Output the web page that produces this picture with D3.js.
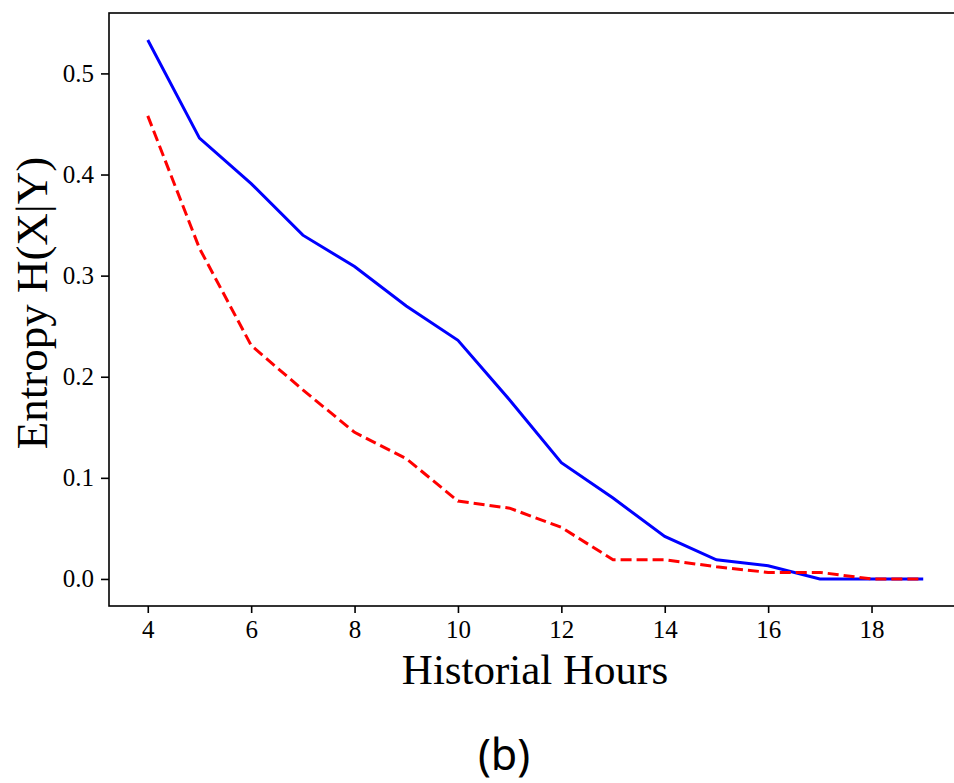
<!DOCTYPE html>
<html>
<head>
<meta charset="utf-8">
<script src="https://cdn.jsdelivr.net/npm/d3@7"></script>
<style>
  body { margin: 0; background: #fff; }
  svg { display: block; }
</style>
</head>
<body>
<div id="chart"></div>
<script>
// historical hours on the x axis
const hours = [4, 5, 6, 7, 8, 9, 10, 11, 12, 13, 14, 15, 16, 17, 18, 19];
// blue solid series
const blueVals = [0.533, 0.436, 0.391, 0.340, 0.309, 0.270, 0.236, 0.177, 0.115, 0.080, 0.042, 0.019, 0.013, 0.0, 0.0, 0.0];
// red dashed series
const redVals = [0.458, 0.327, 0.231, 0.187, 0.145, 0.119, 0.077, 0.070, 0.051, 0.019, 0.019, 0.012, 0.0065, 0.0065, 0.0, 0.0];
const xTicks = [4, 6, 8, 10, 12, 14, 16, 18];
const yTicks = [0.0, 0.1, 0.2, 0.3, 0.4, 0.5];

const width = 954, height = 783;
const plot = { left: 109, top: 13, right: 962, bottom: 606 };

const svg = d3.select("#chart").append("svg")
    .attr("width", width)
    .attr("height", height);

const x = d3.scaleLinear().domain([3.25, 19.75]).range([plot.left, plot.right]);
const y = d3.scaleLinear().domain([-0.02675, 0.55975]).range([plot.bottom, plot.top]);

const serif = "'Liberation Serif', 'Times New Roman', serif";

// frame
svg.append("rect")
    .attr("x", plot.left).attr("y", plot.top)
    .attr("width", plot.right - plot.left).attr("height", plot.bottom - plot.top)
    .attr("fill", "none").attr("stroke", "#000").attr("stroke-width", 1.6);

const line = d3.line()
    .x((d, i) => x(hours[i]))
    .y(d => y(d));

svg.append("path")
    .datum(blueVals)
    .attr("d", line)
    .attr("fill", "none")
    .attr("stroke", "#0000ff")
    .attr("stroke-width", 3);

svg.append("path")
    .datum(redVals)
    .attr("d", line)
    .attr("fill", "none")
    .attr("stroke", "#ff0000")
    .attr("stroke-width", 3)
    .attr("stroke-dasharray", "11,5");

// axes
const xAxis = d3.axisBottom(x).tickValues(xTicks).tickSize(7).tickPadding(7).tickFormat(d3.format("d"));
const yAxis = d3.axisLeft(y).tickValues(yTicks).tickSize(8).tickPadding(7).tickFormat(d3.format(".1f"));

const gx = svg.append("g")
    .attr("transform", "translate(0," + plot.bottom + ")")
    .call(xAxis);
const gy = svg.append("g")
    .attr("transform", "translate(" + plot.left + ",0)")
    .call(yAxis);

[gx, gy].forEach(g => {
    g.select(".domain").remove();
    g.selectAll(".tick line").attr("stroke", "#000").attr("stroke-width", 1.6);
    g.selectAll(".tick text")
        .attr("fill", "#000")
        .style("font-family", serif)
        .style("font-size", "25px");
});

// axis titles
svg.append("text")
    .attr("x", 535).attr("y", 684)
    .attr("text-anchor", "middle")
    .style("font-family", serif)
    .style("font-size", "43px")
    .text("Historial Hours");

svg.append("text")
    .attr("transform", "translate(47,303) rotate(-90)")
    .attr("text-anchor", "middle")
    .style("font-family", serif)
    .style("font-size", "45px")
    .text("Entropy H(X|Y)");

// panel caption
svg.append("text")
    .attr("x", 504).attr("y", 770)
    .attr("text-anchor", "middle")
    .style("font-family", "'Noto Sans', 'DejaVu Sans', sans-serif")
    .style("font-size", "43px")
    .text("(b)");
</script>
</body>
</html>
